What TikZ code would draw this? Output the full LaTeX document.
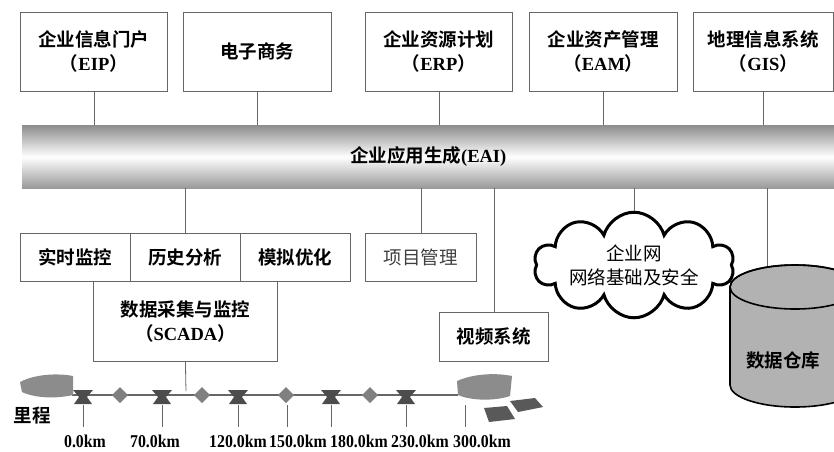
\documentclass[tikz,border=0pt]{standalone}
\usepackage{fontspec}
\setmainfont{Liberation Serif}
\newfontfamily\cjk{Noto Sans CJK SC}[BoldFont={Noto Sans CJK SC Bold}]
\usetikzlibrary{shapes.symbols}
\newcommand{\zh}[1]{{\cjk #1}}

\begin{document}
\begin{tikzpicture}[x=1pt,y=-1pt]
      \bfseries
      \fontsize{18.5}{24}\selectfont
      \tikzstyle{box}=[draw=black!60, line width=0.8pt, anchor=north west, inner sep=0pt, align=center]
      \tikzstyle{link}=[draw=black!60, line width=0.8pt]
      \tikzstyle{pump}=[fill=black!70]
      \tikzstyle{valve}=[fill=black!50]
      \tikzstyle{tank}=[fill=black!45]
      \tikzstyle{km}=[inner sep=0pt, xscale=0.88, transform shape, font=\fontsize{18}{20}\selectfont]
      \useasboundingbox (0,0) rectangle (834,451);

      % application layer
      \node[box, minimum width=147, minimum height=79] (eip) at (20,12)  {\zh{企业信息门户}\\\zh{（}EIP\zh{）}};
      \node[box, minimum width=148, minimum height=79] (ec)  at (183,12) {\zh{电子商务}};
      \node[box, minimum width=147, minimum height=79] (erp) at (365,12) {\zh{企业资源计划}\\\zh{（}ERP\zh{）}};
      \node[box, minimum width=148, minimum height=79] (eam) at (529,12) {\zh{企业资产管理}\\\zh{（}EAM\zh{）}};
      \node[box, minimum width=140, minimum height=79] (gis) at (693,12) {\zh{地理信息系统}\\\zh{（}GIS\zh{）}};

      % integration bus
      \node[anchor=north west, inner sep=0pt, minimum width=812, minimum height=63,
            top color=black!45, bottom color=black!40, middle color=white] (eai) at (22,125) {\zh{企业应用生成}(EAI)};

      \draw[link] (eip.south) -- (eip.south |- eai.north);
      \draw[link] (ec.south)  -- (ec.south  |- eai.north);
      \draw[link] (erp.south) -- (erp.south |- eai.north);
      \draw[link] (eam.south) -- (eam.south |- eai.north);
      \draw[link] (gis.south) -- (gis.south |- eai.north);

      % operation layer
      \node[box, minimum width=110, minimum height=48] (rt)   at (20,233)  {\zh{实时监控}};
      \node[box, minimum width=110, minimum height=48] (hist) at (130,233) {\zh{历史分析}};
      \node[box, minimum width=110, minimum height=48] (sim)  at (240,233) {\zh{模拟优化}};
      \node[box, minimum width=111, minimum height=48, font=\mdseries, text=black!75] (pm) at (365,233) {\zh{项目管理}};
      \node[box, minimum width=184, minimum height=80] (scada) at (93,281) {\zh{数据采集与监控}\\\zh{（}SCADA\zh{）}};
      \node[box, minimum width=109, minimum height=49] (video) at (439,312) {\zh{视频系统}};
      \node[cloud, draw, line width=3pt, cloud puffs=10, aspect=2.2, inner sep=-9pt,
            minimum width=200, minimum height=96, align=center, font=\mdseries] (lan) at (634,265) {\zh{企业网}\\\zh{网络基础及安全}};

      % data warehouse
      \draw[line width=1.6pt, fill=black!30] (730,287) -- (730,385)
            arc[start angle=180, end angle=0, x radius=65, y radius=22] -- (860,287)
            arc[start angle=0, end angle=-180, x radius=65, y radius=22] -- cycle;
      \draw[line width=1.6pt] (795,287) ellipse[x radius=65, y radius=22];
      \node (dw) at (783,360) {\zh{数据仓库}};
      \coordinate (dwtop) at (767,266);

      \draw[link] (eai.south -| hist.north) -- (hist.north);
      \draw[link] (eai.south -| pm.north) -- (pm.north);
      \draw[link] (eai.south -| video.north) -- (video.north);
      \draw[link] (eai.south -| lan.north) -- (lan.north);
      \draw[link] (eai.south -| dwtop) -- (dwtop);

      % pipeline
      \coordinate (pl) at (72,395);
      \coordinate (pr) at (458,395);
      \coordinate (tap) at (186,391);
      \draw[line width=1.5pt, black!60] (pl) -- (pr);
      \draw[link] (scada.south) -- (tap);

      \fill[tank] (20,382) .. controls (35,374) and (58,373) .. (73,376) -- (73,395)
                  .. controls (55,399) and (35,398) .. (22,392) -- cycle;
      \fill[tank] (457,381) .. controls (475,373) and (498,373) .. (512,376) -- (510,396)
                  .. controls (495,401) and (472,401) .. (458,395) -- cycle;
      \fill[black!65] (510,401) -- (535,398) -- (543,407) -- (518,412) -- cycle;
      \fill[black!65] (484,408) -- (507,406) -- (515,419) -- (489,422) -- cycle;

      \foreach \x in {83,162,238,331,406}
        \fill[pump] (\x-10,390) -- (\x+10,390) -- (\x+4,397) -- (\x+9,404) -- (\x-9,404) -- (\x-4,397) -- cycle;
      \foreach \x in {120,202,286,370}
        \fill[valve] (\x,387) -- (\x+8,395) -- (\x,403) -- (\x-8,395) -- cycle;

      % mileage scale
      \node (mile) at (32,416) {\zh{里程}};
      \foreach \x/\lx/\d [count=\i] in {83/85/0.0, 162/155/70.0, 238/238/120.0, 287/298/150.0,
                                       331/359/180.0, 406/420/230.0, 465/482/300.0} {
        \draw[link] (\x,405) -- (\x,427);
        \node[km] (km\i) at (\lx,441) {\d km};
      }
    \end{tikzpicture}
\end{document}
